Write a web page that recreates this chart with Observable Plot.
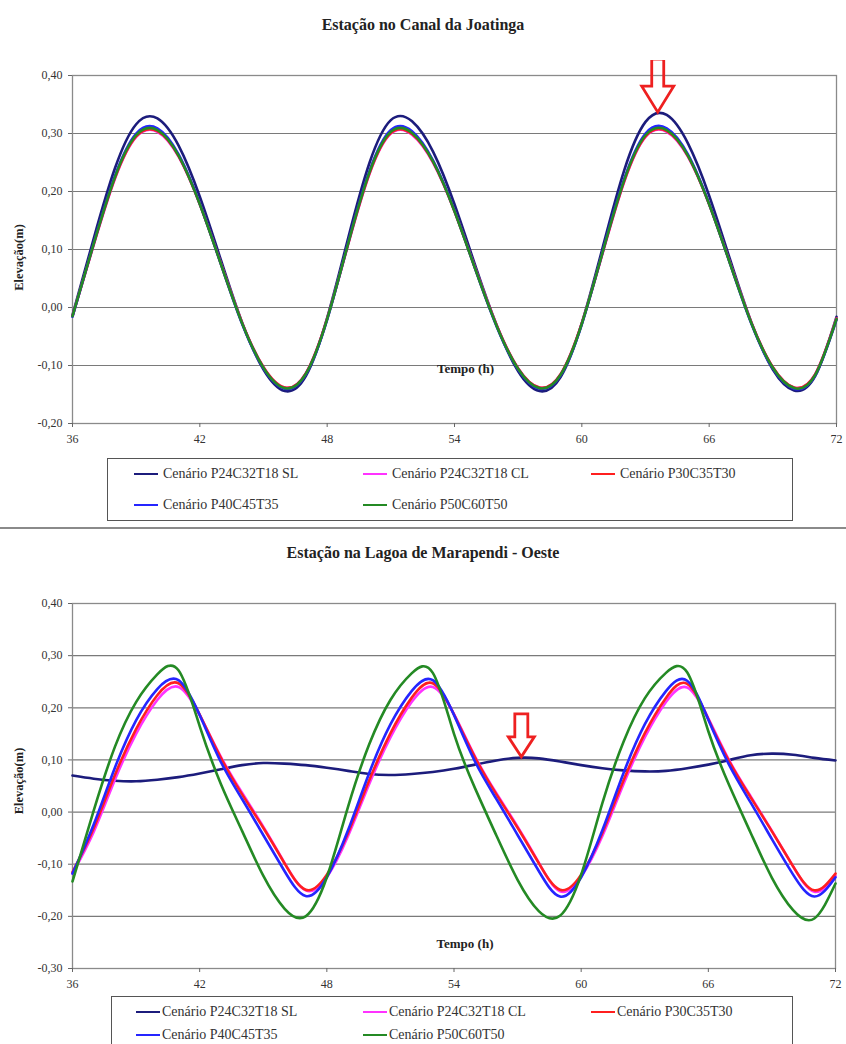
<!DOCTYPE html>
<html><head><meta charset="utf-8">
<script src="https://cdn.jsdelivr.net/npm/d3@7"></script>
<script src="https://cdn.jsdelivr.net/npm/@observablehq/plot@0.6"></script>
<style>
body{margin:0;background:#fff;}
#page{position:relative;width:846px;height:1044px;overflow:hidden;font-family:"Liberation Serif","Times New Roman",serif;background:#fff;}
.title{position:absolute;left:0;width:846px;text-align:center;font-weight:bold;font-size:16px;line-height:18px;color:#222;}
.panel{position:absolute;left:0;}
.legend{position:absolute;border:1.5px solid #555;background:#fff;box-sizing:border-box;}
.item{position:absolute;font-size:14px;line-height:16px;color:#333;white-space:nowrap;display:flex;align-items:center;transform:translateY(-50%);}
.swatch{display:inline-block;width:24px;height:2.5px;margin-right:4px;}
.sep{position:absolute;left:0;width:846px;top:527px;height:2px;background:#8a8a8a;}
</style></head>
<body>
<div id="page"></div>
<script>
// ---------- data ----------
const hours = [36,37,38,39,40,41,42,43,44,45,46,47,48,49,50,51,52,53,54,55,56,57,58,59,60,61,62,63,64,65,66,67,68,69,70,71,72];
const xTicks = [36,42,48,54,60,66,72];
const seriesNames = ["Cenário P24C32T18 SL","Cenário P24C32T18 CL","Cenário P30C35T30","Cenário P40C45T35","Cenário P50C60T50"];
const seriesColors = ["#1c1c7c","#ff33ff","#ff1f1f","#2525ff","#248a24"];

// Estação no Canal da Joatinga
const titleTop = "Estação no Canal da Joatinga";
const yTicksTop = [-0.2,-0.1,0,0.1,0.2,0.3,0.4];
const joaSL  = [-0.013,0.119,0.240,0.316,0.326,0.279,0.191,0.081,-0.027,-0.107,-0.144,-0.118,-0.018,0.121,0.250,0.323,0.321,0.268,0.178,0.070,-0.032,-0.110,-0.144,-0.120,-0.027,0.106,0.237,0.320,0.332,0.283,0.193,0.081,-0.027,-0.107,-0.143,-0.118,-0.016];
const joaCL  = [-0.015,0.108,0.222,0.294,0.303,0.260,0.178,0.075,-0.027,-0.103,-0.138,-0.113,-0.019,0.110,0.231,0.300,0.298,0.249,0.166,0.065,-0.032,-0.105,-0.138,-0.115,-0.027,0.096,0.217,0.294,0.303,0.260,0.178,0.075,-0.027,-0.103,-0.138,-0.115,-0.019];
const joaP30 = [-0.015,0.109,0.223,0.295,0.304,0.261,0.178,0.075,-0.027,-0.103,-0.138,-0.113,-0.019,0.111,0.232,0.301,0.299,0.250,0.166,0.065,-0.032,-0.105,-0.138,-0.115,-0.027,0.097,0.218,0.295,0.304,0.261,0.178,0.075,-0.027,-0.103,-0.138,-0.115,-0.019];
const joaP40 = [-0.016,0.111,0.227,0.300,0.309,0.264,0.179,0.074,-0.029,-0.105,-0.140,-0.115,-0.021,0.113,0.236,0.306,0.304,0.253,0.167,0.064,-0.034,-0.107,-0.140,-0.117,-0.029,0.099,0.222,0.300,0.309,0.264,0.179,0.074,-0.029,-0.105,-0.140,-0.117,-0.021];
const joaP50 = [-0.015,0.110,0.225,0.297,0.306,0.262,0.178,0.074,-0.028,-0.104,-0.139,-0.114,-0.020,0.112,0.234,0.303,0.301,0.251,0.166,0.064,-0.033,-0.106,-0.139,-0.116,-0.028,0.098,0.220,0.297,0.306,0.262,0.178,0.074,-0.028,-0.104,-0.139,-0.116,-0.020];
const joaArrow = [{t: 63.6, v: 0.336}];

// Estação na Lagoa de Marapendi - Oeste
const titleBottom = "Estação na Lagoa de Marapendi - Oeste";
const yTicksBottom = [-0.3,-0.2,-0.1,0,0.1,0.2,0.3,0.4];
const marSL  = [0.070,0.064,0.060,0.059,0.062,0.067,0.074,0.082,0.090,0.094,0.093,0.090,0.085,0.079,0.073,0.071,0.073,0.077,0.083,0.091,0.099,0.104,0.103,0.097,0.090,0.084,0.080,0.078,0.079,0.084,0.091,0.100,0.109,0.112,0.110,0.104,0.099];
const marCL  = [-0.118,-0.038,0.062,0.150,0.215,0.240,0.186,0.106,0.037,-0.028,-0.097,-0.150,-0.125,-0.046,0.054,0.143,0.211,0.240,0.188,0.106,0.036,-0.028,-0.097,-0.152,-0.124,-0.046,0.054,0.143,0.211,0.239,0.180,0.098,0.030,-0.036,-0.104,-0.153,-0.122];
const marP30 = [-0.115,-0.031,0.071,0.159,0.224,0.247,0.187,0.104,0.034,-0.030,-0.098,-0.149,-0.120,-0.040,0.061,0.151,0.219,0.247,0.187,0.104,0.034,-0.030,-0.098,-0.149,-0.120,-0.040,0.061,0.151,0.219,0.246,0.178,0.096,0.028,-0.037,-0.104,-0.150,-0.118];
const marP40 = [-0.118,-0.024,0.085,0.176,0.236,0.253,0.186,0.096,0.025,-0.044,-0.113,-0.161,-0.125,-0.035,0.075,0.168,0.232,0.253,0.186,0.096,0.025,-0.044,-0.113,-0.162,-0.125,-0.035,0.075,0.168,0.232,0.252,0.177,0.089,0.018,-0.052,-0.120,-0.162,-0.125];
const marP50 = [-0.133,0.003,0.125,0.211,0.264,0.272,0.165,0.054,-0.036,-0.122,-0.185,-0.200,-0.125,0.010,0.130,0.215,0.266,0.267,0.150,0.045,-0.045,-0.130,-0.190,-0.199,-0.120,0.017,0.135,0.218,0.267,0.268,0.155,0.050,-0.040,-0.126,-0.188,-0.204,-0.137];
const marArrow = [{t: 57.2, v: 0.105}];

const yLabel = "Elevação(m)";
const xLabel = "Tempo (h)";

// ---------- helpers ----------
const fmt = d => (Math.abs(d) < 1e-9 ? 0 : d).toFixed(2).replace(".", ",");

function blockArrow(points, s) {
  return (index, scales) => {
    const g = d3.create("svg:g");
    for (const p of points) {
      const x = scales.x(p.t), y = scales.y(p.v);
      const d = `M${x},${y} L${x - s.headW/2},${y - s.headH} L${x - s.stemW/2},${y - s.headH} L${x - s.stemW/2},${y - s.headH - s.stemH} L${x + s.stemW/2},${y - s.headH - s.stemH} L${x + s.stemW/2},${y - s.headH} L${x + s.headW/2},${y - s.headH} Z`;
      g.append("path").attr("d", d).attr("fill", "none").attr("stroke", "#ee2020").attr("stroke-width", 2.8).attr("stroke-linejoin", "miter");
    }
    return g.node();
  };
}

function makePanel(cfg) {
  const rows = [];
  cfg.series.forEach((vals, k) => hours.forEach((t, i) => rows.push({t, v: vals[i], s: seriesNames[k]})));
  return Plot.plot({
    width: 846, height: cfg.height,
    marginLeft: 72, marginRight: cfg.marginRight, marginTop: 15, marginBottom: cfg.height - 15 - cfg.plotH,
    style: {fontFamily: '"Liberation Serif","Times New Roman",serif', fontSize: "12px", color: "#333", background: "transparent"},
    x: {domain: [36, 72]},
    y: {domain: [cfg.yTicks[0], cfg.yTicks[cfg.yTicks.length - 1]]},
    marks: [
      Plot.gridY(cfg.yTicks, {stroke: "#7a7a7a", strokeOpacity: 1, strokeWidth: 1.2}),
      Plot.frame({stroke: "#8a8a8a", strokeWidth: 1.3}),
      Plot.axisY(cfg.yTicks, {tickFormat: fmt, tickSize: 4, tickPadding: 6, label: null, stroke: "#666"}),
      Plot.axisX(xTicks, {tickSize: 4, tickPadding: 7, label: null, stroke: "#666"}),
      ...seriesNames.map((name, k) => Plot.line(rows.filter(r => r.s === name), {
        x: "t", y: "v", stroke: seriesColors[k], strokeWidth: 2.6, curve: "natural"
      })),
      Plot.text([xLabel], {text: d => d, frameAnchor: "bottom", lineAnchor: "middle", textAnchor: "middle", dx: 11, dy: cfg.tempoDy, fontWeight: "bold", fontSize: 13, fill: "#222"}),
      Plot.text([yLabel], {text: d => d, frameAnchor: "left", textAnchor: "middle", lineAnchor: "middle", dx: -54, dy: cfg.yLabelDy, rotate: -90, fontWeight: "bold", fontSize: 12.5, fill: "#222"}),
      blockArrow(cfg.arrow, cfg.arrowSize)
    ]
  });
}

function legend(box) {
  const el = document.createElement("div");
  el.className = "legend";
  Object.assign(el.style, {left: box.left + "px", top: box.top + "px", width: box.width + "px", height: box.height + "px"});
  seriesNames.forEach((name, k) => {
    const row = k < 3 ? 0 : 1, col = k < 3 ? k : k - 3;
    const it = document.createElement("div");
    it.className = "item";
    it.style.left = box.cols[col] + "px";
    it.style.top = box.rows[row] + "px";
    const sw = document.createElement("span");
    sw.className = "swatch";
    sw.style.background = seriesColors[k];
    sw.style.marginRight = box.gap + "px";
    it.appendChild(sw);
    it.appendChild(document.createTextNode(name));
    el.appendChild(it);
  });
  return el;
}

// ---------- layout ----------
const page = document.getElementById("page");
function add(el, top) { el.style.position = "absolute"; el.style.top = top + "px"; el.style.left = "0px"; page.appendChild(el); return el; }

const t1 = document.createElement("div"); t1.className = "title"; t1.textContent = titleTop; add(t1, 16);
add(makePanel({series: [joaSL, joaCL, joaP30, joaP40, joaP50], yTicks: yTicksTop, height: 400, plotH: 348, marginRight: 10,
  tempoDy: -55, yLabelDy: 8, arrow: joaArrow, arrowSize: {headW: 32, headH: 26, stemW: 12, stemH: 27}}), 60);
page.appendChild(legend({left: 107, top: 458, width: 686, height: 63, cols: [26, 255, 483], rows: [15, 46], gap: 5}));
const sep = document.createElement("div"); sep.className = "sep"; page.appendChild(sep);

const t2 = document.createElement("div"); t2.className = "title"; t2.textContent = titleBottom; add(t2, 544);
add(makePanel({series: [marSL, marCL, marP30, marP40, marP50], yTicks: yTicksBottom, height: 417, plotH: 365, marginRight: 11,
  tempoDy: -25, yLabelDy: -5, arrow: marArrow, arrowSize: {headW: 26, headH: 20, stemW: 13, stemH: 23}}), 588);
page.appendChild(legend({left: 111, top: 996, width: 682, height: 62, cols: [24, 251, 479], rows: [15, 38], gap: 2}));
</script>
</body></html>
